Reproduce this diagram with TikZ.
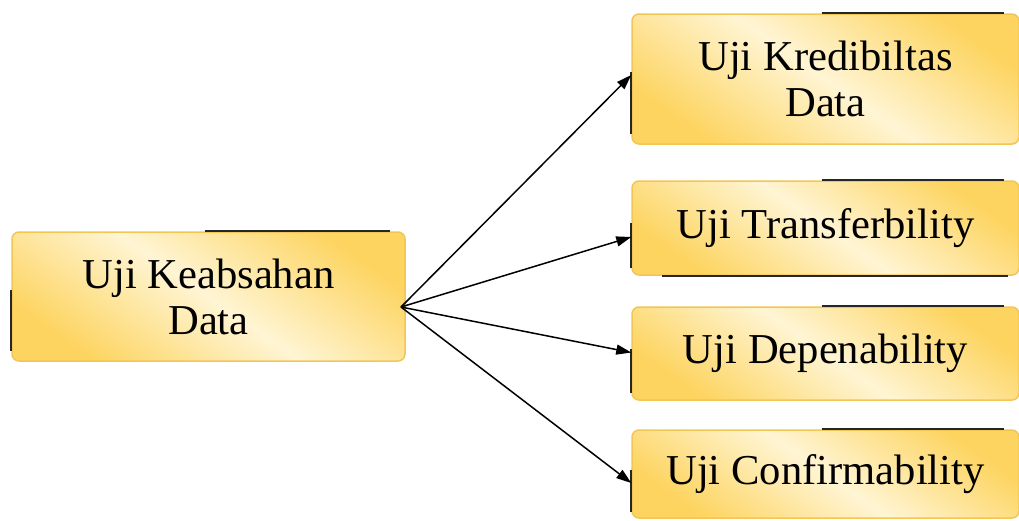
\documentclass[tikz,border=0pt]{standalone}
\usepackage{fontspec}
\setmainfont{Liberation Serif}
\usetikzlibrary{arrows.meta,calc}
\definecolor{gold}{RGB}{253,212,96}
\definecolor{cream}{RGB}{255,245,212}
\definecolor{goldedge}{RGB}{242,198,84}
\begin{document}
\begin{tikzpicture}[x=1pt,y=-1pt,
  box/.style={draw=goldedge, line width=1.5pt, rounded corners=7pt,
    top color=gold, bottom color=gold, middle color=cream, shading angle=-35,
    align=center, inner sep=0pt, font=\fontsize{42.6}{46}\selectfont},
  arr/.style={-{Triangle[length=15pt,width=10pt]}, line width=1.5pt},
  glitch/.style={line width=2.4pt, draw=black!85}]
\useasboundingbox (0,0) rectangle (1019,520);
\node[box, minimum width=393pt, minimum height=129pt] (k) at (208.5,296.5) {Uji Keabsahan\\Data};
\node[box, minimum width=387pt, minimum height=130pt] (b1) at (825.5,79) {Uji Kredibiltas\\Data};
\node[box, minimum width=387pt, minimum height=94pt] (b2) at (825.5,228) {Uji Transferbility};
\node[box, minimum width=387pt, minimum height=93pt] (b3) at (825.5,353.5) {Uji Depenability};
\node[box, minimum width=387pt, minimum height=88pt] (b4) at (825.5,474) {Uji Confirmability};
% partial dark edges
\foreach \n in {k,b1,b2,b3,b4}{
  \draw[glitch] ($(\n.north west)!0.49!(\n.north east)$) -- ($(\n.north west)!0.96!(\n.north east)$);
  \draw[glitch] ($(\n.north west)!0.45!(\n.south west)$) -- ($(\n.north west)!0.92!(\n.south west)$);
}
\draw[glitch] ($(b2.south west)!0.08!(b2.south east)$) -- ($(b2.south west)!0.97!(b2.south east)$);
\coordinate (s) at (401,307);
\draw[arr] (s) -- ([yshift=4pt]b1.west);
\draw[arr] (s) -- ([yshift=-9pt]b2.west);
\draw[arr] (s) -- ([yshift=1pt]b3.west);
\draw[arr] (s) -- ([yshift=-9pt]b4.west);
\end{tikzpicture}
\end{document}
